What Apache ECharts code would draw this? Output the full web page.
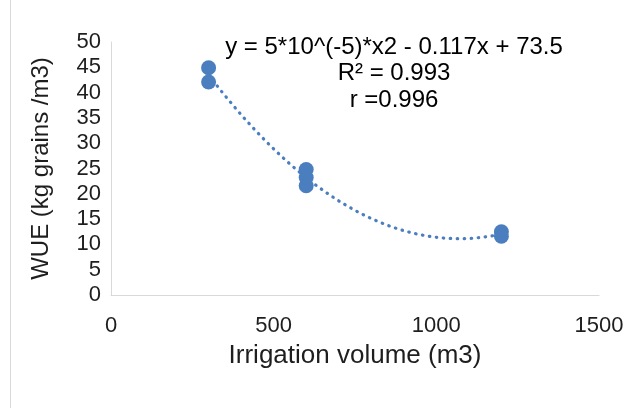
<!DOCTYPE html>
<html>
<head>
<meta charset="utf-8">
<script src="https://cdn.jsdelivr.net/npm/echarts@6/dist/echarts.min.js"></script>
<style>html,body{margin:0;padding:0;background:#fff;}#c{width:634px;height:408px;}</style>
</head>
<body>
<div id="c"></div>
<script>
// Data
const irrigation = [300, 300, 600, 600, 600, 1200, 1200];
const wue = [44.9, 42.1, 24.8, 23.2, 21.6, 12.5, 11.6];
const xTicks = [0, 500, 1000, 1500];
const yTicks = [0, 5, 10, 15, 20, 25, 30, 35, 40, 45, 50];
const annotations = ['y = 5*10^(-5)*x2 - 0.117x + 73.5', 'R² = 0.993', 'r =0.996'];

// quadratic least squares trendline (like Excel polynomial trendline)
function polyfit2(xs, ys) {
  let S = [0,0,0,0,0], T = [0,0,0];
  for (let i = 0; i < xs.length; i++) {
    let p = 1;
    for (let k = 0; k < 5; k++) { S[k] += p; if (k < 3) T[k] += p * ys[i]; p *= xs[i]; }
  }
  const A = [[S[0],S[1],S[2],T[0]],[S[1],S[2],S[3],T[1]],[S[2],S[3],S[4],T[2]]];
  for (let i = 0; i < 3; i++) {
    for (let j = i + 1; j < 3; j++) {
      const f = A[j][i] / A[i][i];
      for (let k = i; k < 4; k++) A[j][k] -= f * A[i][k];
    }
  }
  const c = [0,0,0];
  for (let i = 2; i >= 0; i--) {
    let s = A[i][3];
    for (let k = i + 1; k < 3; k++) s -= A[i][k] * c[k];
    c[i] = s / A[i][i];
  }
  return c; // c0 + c1 x + c2 x^2
}
const coef = polyfit2(irrigation, wue);
const xmin = Math.min(...irrigation), xmax = Math.max(...irrigation);
const trend = [];
for (let i = 0; i <= 90; i++) {
  const x = xmin + (xmax - xmin) * i / 90;
  trend.push([x, coef[0] + coef[1] * x + coef[2] * x * x]);
}
const pts = irrigation.map((x, i) => [x, wue[i]]);

const font = '"Liberation Sans", Arial, sans-serif';
const txt = '#1e1e1e';
const chart = echarts.init(document.getElementById('c'), null, {renderer: 'canvas'});
chart.setOption({
  animation: false,
  backgroundColor: '#fff',
  grid: {left: 111, top: 42, right: 35, bottom: 113},
  xAxis: {
    type: 'value', min: 0, max: 1500, interval: 500,
    name: 'Irrigation volume (m3)', nameLocation: 'middle', nameGap: 48,
    nameTextStyle: {fontFamily: font, fontSize: 26, color: txt},
    axisLine: {show: true, lineStyle: {color: '#d9d9d9', width: 1}},
    axisTick: {show: false}, splitLine: {show: false},
    axisLabel: {fontFamily: font, fontSize: 22, color: txt, margin: 20,
      formatter: v => xTicks.includes(v) ? String(v) : ''}
  },
  yAxis: {
    type: 'value', min: 0, max: 50, interval: 5,
    name: 'WUE (kg grains /m3)', nameLocation: 'middle', nameGap: 58,
    nameTextStyle: {fontFamily: font, fontSize: 24, color: txt},
    axisLine: {show: true, lineStyle: {color: '#d9d9d9', width: 1}},
    axisTick: {show: false}, splitLine: {show: false},
    axisLabel: {fontFamily: font, fontSize: 22, color: txt, margin: 10,
      formatter: v => yTicks.includes(v) ? String(v) : ''}
  },
  graphic: [
    {type: 'rect', shape: {x: 10.5, y: -2, width: 700, height: 500},
     style: {fill: 'none', stroke: '#d9d9d9', lineWidth: 1}, silent: true}
  ].concat(annotations.map((t, i) => ({
    type: 'text', x: 394, y: 47 + i * 26.5,
    style: {text: t, fontFamily: font, fontSize: 24, fill: '#000',
      textAlign: 'center', textVerticalAlign: 'middle'}
  }))),
  series: [
    {type: 'line', data: trend, showSymbol: false, symbol: 'none', smooth: false,
     lineStyle: {color: '#4a7ebf', width: 3.2, type: [0.5, 6.5], cap: 'round'}, z: 2},
    {type: 'scatter', data: pts, symbol: 'circle', symbolSize: 15,
     itemStyle: {color: '#4a7ebf', opacity: 1}, z: 3}
  ]
});
</script>
</body>
</html>
